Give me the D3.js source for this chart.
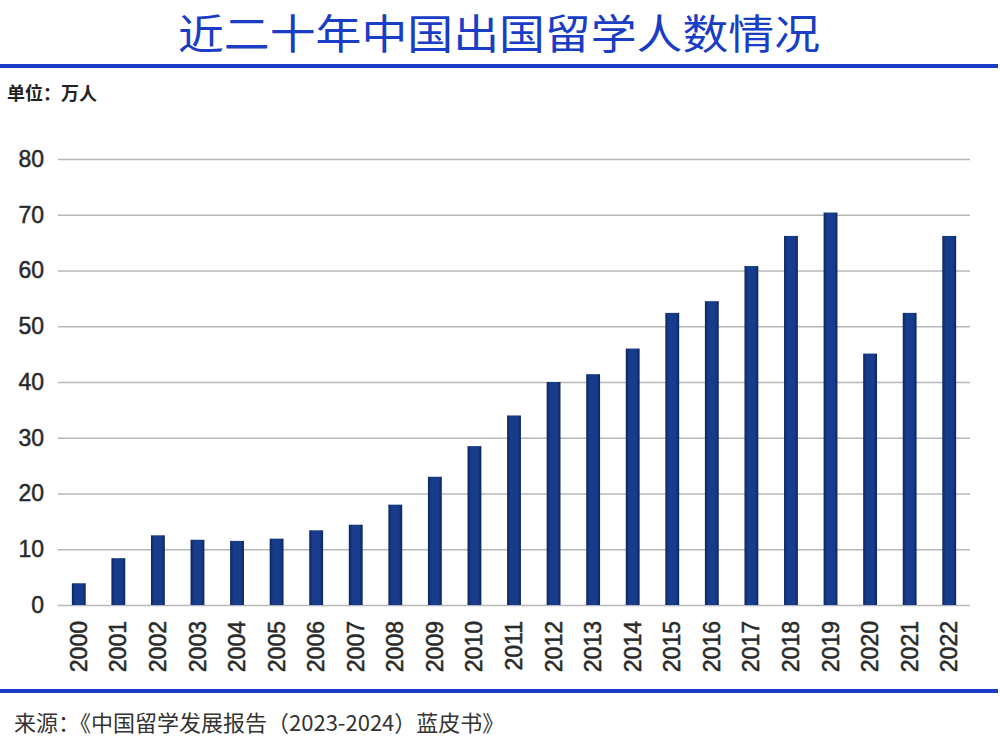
<!DOCTYPE html>
<html><head><meta charset="utf-8">
<script src="https://cdn.jsdelivr.net/npm/d3@7"></script>
<style>body{margin:0;background:#fff}svg{display:block}</style>
</head><body>
<svg id="c" width="1000" height="748"></svg>
<script>
const years = ["2000","2001","2002","2003","2004","2005","2006","2007","2008","2009","2010","2011","2012","2013","2014","2015","2016","2017","2018","2019","2020","2021","2022"];
const values = [3.9,8.4,12.5,11.7,11.5,11.9,13.4,14.4,18.0,23.0,28.5,34.0,40.0,41.4,46.0,52.4,54.5,60.8,66.2,70.4,45.1,52.4,66.2];
const yTicks = [0,10,20,30,40,50,60,70,80];
const title = "近二十年中国出国留学人数情况";
const unitLabel = "单位：万人";
const source = "来源：《中国留学发展报告（2023-2024）蓝皮书》";

(function(){
const svg = d3.select("#c");
const mLeft = 58, mRight = 970, mTop = 159, mBottom = 605;
const x = d3.scaleBand().domain(years).range([mLeft, mRight]).paddingInner(0.65).paddingOuter(0.35);
const y = d3.scaleLinear().domain([0, 80]).range([mBottom, mTop]);

const defs = svg.append("defs");
const g = defs.append("linearGradient").attr("id","bar").attr("x1","0").attr("x2","1").attr("y1","0").attr("y2","0");
g.append("stop").attr("offset","0").attr("stop-color","#0c2560");
g.append("stop").attr("offset","0.25").attr("stop-color","#183c8c");
g.append("stop").attr("offset","0.75").attr("stop-color","#183c8c");
g.append("stop").attr("offset","1").attr("stop-color","#0c2560");

svg.append("text").attr("x", 178).attr("y", 48.5)
  .attr("textLength",642).attr("lengthAdjust","spacingAndGlyphs")
  .attr("font-family","Noto Sans CJK SC").attr("font-size",41).attr("fill","#1a3dc6").text(title);
svg.append("rect").attr("x",0).attr("y",64).attr("width",998).attr("height",4).attr("fill","#1a3dc6");
svg.append("text").attr("x",7).attr("y",100).attr("font-family","Noto Sans CJK SC").attr("font-weight","bold")
  .attr("font-size",18).attr("fill","#222").text(unitLabel);

const yAxis = d3.axisLeft(y).tickValues(yTicks).tickSize(-(mRight-mLeft)).tickPadding(14);
const ga = svg.append("g").attr("transform",`translate(${mLeft},0)`).call(yAxis);
ga.select(".domain").remove();
ga.selectAll(".tick line").attr("stroke","#b8b8b8").attr("stroke-width",1.5);
ga.selectAll(".tick text").attr("font-family","Liberation Sans, Arial").attr("font-size",23)
  .attr("fill","#2a2a2a").attr("stroke","#2a2a2a").attr("stroke-width",0.5);

svg.append("g").selectAll("rect").data(values).join("rect")
  .attr("x",(d,i)=>x(years[i])).attr("width",x.bandwidth())
  .attr("y",d=>y(d)).attr("height",d=>mBottom-y(d)).attr("fill","url(#bar)");

const xAxis = d3.axisBottom(x).tickSize(0).tickPadding(0);
const gx = svg.append("g").attr("transform",`translate(0,${mBottom})`).call(xAxis);
gx.select(".domain").remove();
gx.selectAll(".tick text").attr("font-family","Liberation Sans, Arial").attr("font-size",23)
  .attr("fill","#2a2a2a").attr("stroke","#2a2a2a").attr("stroke-width",0.5)
  .attr("transform","rotate(-90)").attr("text-anchor","end").attr("dy","0.35em").attr("x",-16).attr("y",0);

svg.append("rect").attr("x",0).attr("y",689).attr("width",998).attr("height",4).attr("fill","#1a3dc6");
svg.append("text").attr("x",14).attr("y",731).attr("font-family","Noto Sans CJK SC")
  .attr("font-size",22).attr("fill","#333").text(source);
})();
</script>
</body></html>
